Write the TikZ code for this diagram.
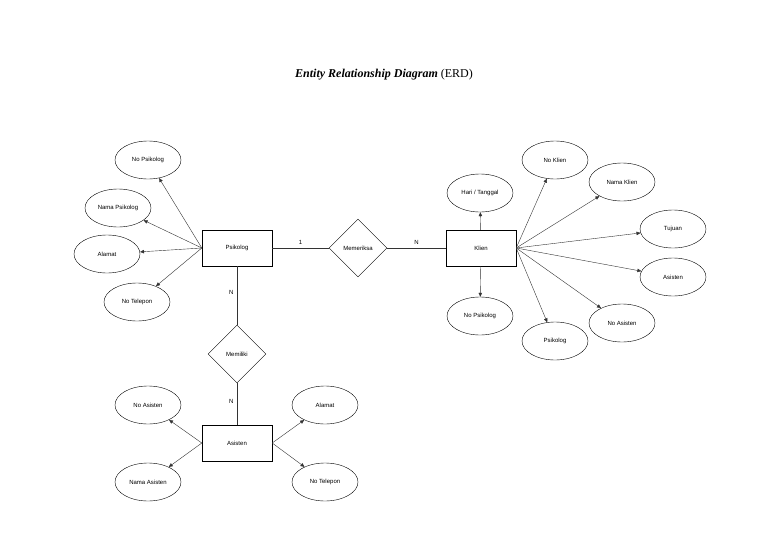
\documentclass[tikz,border=0pt]{standalone}
\usepackage{fontspec}
\setmainfont{Liberation Sans}
\newfontfamily\titlefont{Liberation Serif}
\usetikzlibrary{shapes.geometric,arrows.meta}
\begin{document}
\begin{tikzpicture}[x=1pt,y=-1pt,
  ent/.style={draw,minimum width=70pt,minimum height=36pt,font=\fontsize{6}{7}\selectfont},
  rel/.style={draw,diamond,minimum width=58pt,minimum height=58pt,inner sep=0pt,font=\fontsize{6}{7}\selectfont},
  attr/.style={draw,ellipse,minimum width=66pt,minimum height=38pt,inner sep=0pt,font=\fontsize{6}{7}\selectfont},
  arr/.style={-{Triangle[length=4pt,width=3.5pt]},draw=black!80},
  lnk/.style={draw=black!80},
  card/.style={font=\fontsize{6}{7}\selectfont}]
\useasboundingbox (0,0) rectangle (768,543);
\node (title) at (384,75) {\titlefont\fontsize{12}{14}\selectfont\textbf{\textit{Entity Relationship Diagram}} (ERD)};
\node[ent] (psi) at (237,248) {Psikolog};
\node[rel] (mem) at (358,248) {Memeriksa};
\node[ent] (kli) at (481,248) {Klien};
\node[rel] (mil) at (237,354) {Memiliki};
\node[ent] (asi) at (237,443) {Asisten};
\node[attr] (a1) at (148,160) {No Psikolog};
\node[attr] (a2) at (118,208) {Nama Psikolog};
\node[attr] (a3) at (107,254) {Alamat};
\node[attr] (a4) at (137,302) {No Telepon};
\node[attr] (b1) at (148,405) {No Asisten};
\node[attr] (b2) at (148,482) {Nama Asisten};
\node[attr] (b3) at (325,405) {Alamat};
\node[attr] (b4) at (325,482) {No Telepon};
\node[attr] (c1) at (555,160) {No Klien};
\node[attr] (c2) at (480,193) {Hari / Tanggal};
\node[attr] (c3) at (622,182) {Nama Klien};
\node[attr] (c4) at (673,229) {Tujuan};
\node[attr] (c5) at (673,277) {Asisten};
\node[attr] (c6) at (622,323) {No Asisten};
\node[attr] (c7) at (555,341) {Psikolog};
\node[attr] (c8) at (480,316) {No Psikolog};
\draw[lnk] (psi) -- node[card,above,pos=0.5]{1} (mem);
\draw[lnk] (mem) -- node[card,above,pos=0.5]{N} (kli);
\draw[lnk] (psi) -- node[card,left,pos=0.45]{N} (mil);
\draw[lnk] (mil) -- node[card,left,pos=0.45]{N} (asi);
\foreach \t in {a1,a2,a3,a4} \draw[arr] (psi.west) -- (\t);
\foreach \t in {b1,b2} \draw[arr] (asi.west) -- (\t);
\foreach \t in {b3,b4} \draw[arr] (asi.east) -- (\t);
\foreach \t in {c1,c3,c4,c5,c6,c7} \draw[arr] (kli.east) -- (\t);
\draw[arr] (kli) -- (c2);
\draw[arr] (kli) -- (c8);
\end{tikzpicture}
\end{document}
